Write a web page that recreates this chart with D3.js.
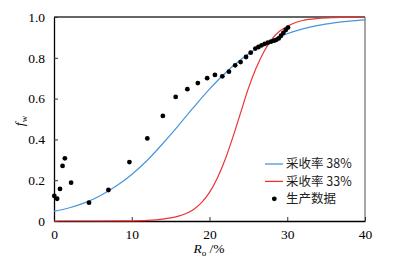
<!DOCTYPE html>
<html>
<head>
<meta charset="utf-8">
<script src="https://cdn.jsdelivr.net/npm/d3@7"></script>
<style>
  body { margin: 0; background: #fff; }
</style>
</head>
<body>
<div id="chart"></div>
<script>
// curve samples
const curveX = [0, 2, 4, 6, 8, 10, 12, 14, 16, 18, 20, 22, 24, 26, 28, 30, 32, 34, 36, 38, 40];
const blue38 = [0.047, 0.065, 0.090, 0.125, 0.171, 0.228, 0.298, 0.380, 0.468, 0.559, 0.646, 0.724, 0.790, 0.844, 0.887, 0.918, 0.942, 0.959, 0.971, 0.980, 0.986];
const redX = [0, 5, 10, 12, 14, 15, 16, 17, 18, 19, 20, 21, 22, 23, 24, 25, 26, 27, 28, 29, 30, 31, 32, 34, 36, 38, 40];
const red33 = [0, 0, 0.001, 0.003, 0.009, 0.015, 0.024, 0.037, 0.058, 0.091, 0.14, 0.21, 0.30, 0.41, 0.53, 0.65, 0.75, 0.83, 0.89, 0.93, 0.955, 0.972, 0.983, 0.993, 0.997, 0.999, 1.0];

// production data points
const prodX = [0.04, 0.4, 0.77, 1.1, 1.4, 2.2, 4.5, 7.0, 9.7, 12.0, 14.0, 15.65, 17.15, 18.5, 19.7, 20.7, 21.65, 22.5, 23.3, 24.0, 24.7, 25.3, 25.9, 26.3, 26.7, 27.1, 27.5, 27.9, 28.3, 28.6, 28.9, 29.2, 29.5, 29.8, 30.1];
const prodY = [0.123, 0.109, 0.157, 0.27, 0.307, 0.188, 0.09, 0.152, 0.289, 0.405, 0.515, 0.608, 0.646, 0.676, 0.70, 0.716, 0.709, 0.732, 0.763, 0.779, 0.804, 0.825, 0.845, 0.853, 0.861, 0.868, 0.874, 0.879, 0.884, 0.888, 0.895, 0.908, 0.922, 0.936, 0.948];

const xTicks = [0, 10, 20, 30, 40];
const yTicks = [0, 0.2, 0.4, 0.6, 0.8, 1.0];
const legendLabels = ["采收率 38%", "采收率 33%", "生产数据"];

const margin = { top: 17, right: 45, bottom: 40, left: 54 };
const width = 410 - margin.left - margin.right;
const height = 261 - margin.top - margin.bottom;

const svg = d3.select("#chart")
  .append("svg")
  .attr("width", 410)
  .attr("height", 261);

const g = svg.append("g")
  .attr("transform", "translate(" + margin.left + "," + margin.top + ")");

const x = d3.scaleLinear().domain([0, 40]).range([0, width]);
const y = d3.scaleLinear().domain([0, 1]).range([height, 0]);

// frame: top and right
g.append("line").attr("x1", 0).attr("x2", width).attr("y1", 0).attr("y2", 0)
  .attr("stroke", "#333").attr("stroke-width", 1.3);
g.append("line").attr("x1", width).attr("x2", width).attr("y1", 0).attr("y2", height)
  .attr("stroke", "#777").attr("stroke-width", 1.3);

function styleAxis(s) {
  s.select(".domain").attr("stroke", "#000").attr("stroke-width", 1.3);
  s.selectAll(".tick line").attr("stroke", "#333");
  s.selectAll(".tick text")
    .attr("font-family", "'Liberation Serif', serif")
    .attr("font-size", 13.5)
    .attr("fill", "#000");
}

const xAxis = d3.axisBottom(x).tickValues(xTicks).tickSizeInner(-4).tickSizeOuter(0).tickPadding(8)
  .tickFormat(d3.format("d"));
g.append("g")
  .attr("transform", "translate(0," + height + ")")
  .call(xAxis)
  .call(styleAxis);

const yAxis = d3.axisLeft(y).tickValues(yTicks).tickSizeInner(-4).tickSizeOuter(0).tickPadding(9)
  .tickFormat(d => d === 0 ? "0" : d3.format(".1f")(d));
g.append("g")
  .call(yAxis)
  .call(styleAxis);

const line = d3.line()
  .x(d => x(d[0]))
  .y(d => y(d[1]))
  .curve(d3.curveMonotoneX);

g.append("path")
  .datum(curveX.map((v, i) => [v, blue38[i]]))
  .attr("fill", "none")
  .attr("stroke", "#4a94da")
  .attr("stroke-width", 1.2)
  .attr("d", line);

g.append("path")
  .datum(redX.map((v, i) => [v, red33[i]]))
  .attr("fill", "none")
  .attr("stroke", "#ee3232")
  .attr("stroke-width", 1.2)
  .attr("d", line);

g.selectAll("circle.pt")
  .data(prodX.map((v, i) => [v, prodY[i]]))
  .enter()
    .append("circle")
      .attr("class", "pt")
      .attr("cx", d => x(d[0]))
      .attr("cy", d => y(d[1]))
      .attr("r", 2.4)
      .attr("fill", "#000");

// legend
const lg = g.append("g").attr("transform", "translate(211,147)");
const legendColors = ["#4a94da", "#ee3232", null];
legendLabels.forEach((lab, i) => {
  const yy = i * 17.4;
  if (legendColors[i]) {
    lg.append("line").attr("x1", 0).attr("x2", 18).attr("y1", yy).attr("y2", yy)
      .attr("stroke", legendColors[i]).attr("stroke-width", 1.3);
  } else {
    lg.append("circle").attr("cx", 9.3).attr("cy", yy).attr("r", 2.4).attr("fill", "#000");
  }
  lg.append("text")
    .attr("x", 21)
    .attr("y", yy)
    .attr("dy", "0.35em")
    .attr("font-family", "'Noto Sans CJK SC', sans-serif")
    .attr("font-size", 12.5)
    .attr("fill", "#222")
    .text(lab);
});

// axis titles
const xt = svg.append("text")
  .attr("x", 209)
  .attr("y", 253)
  .attr("text-anchor", "middle")
  .attr("font-family", "'Liberation Serif', serif")
  .attr("font-size", 13.5);
xt.append("tspan").attr("font-style", "italic").text("R");
xt.append("tspan").attr("font-size", 9).attr("dy", 3).text("o");
xt.append("tspan").attr("dy", -3).text(" /%");

const yt = svg.append("text")
  .attr("transform", "translate(24,121) rotate(-90)")
  .attr("text-anchor", "middle")
  .attr("font-family", "'Liberation Serif', serif")
  .attr("font-size", 13.5);
yt.append("tspan").attr("font-style", "italic").text("f");
yt.append("tspan").attr("font-size", 9).attr("dy", 3).text("w");
</script>
</body>
</html>
